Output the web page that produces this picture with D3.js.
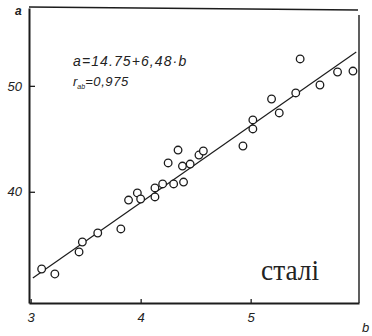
<!DOCTYPE html>
<html>
<head>
<meta charset="utf-8">
<script src="https://cdn.jsdelivr.net/npm/d3@7"></script>
<style>
  html, body { margin: 0; padding: 0; background: #fff; }
  svg { display: block; }
</style>
</head>
<body>
<svg id="chart" width="372" height="336"></svg>
<script>
// ---- data ----
const bValues = [3.10, 3.22, 3.44, 3.47, 3.61, 3.82, 3.89, 3.97, 4.00, 4.13,
                 4.13, 4.20, 4.30, 4.39, 4.25, 4.34, 4.38, 4.45, 4.53, 4.57,
                 4.93, 5.02, 5.02, 5.19, 5.26, 5.41, 5.45, 5.63, 5.79, 5.93];
const aValues = [32.71, 32.24, 34.32, 35.26, 36.11, 36.49, 39.22, 39.89, 39.32, 39.51,
                 40.36, 40.74, 40.74, 40.92, 42.72, 43.94, 42.43, 42.62, 43.47, 43.85,
                 44.32, 46.78, 45.93, 48.76, 47.44, 49.33, 52.54, 50.08, 51.31, 51.40];
const fitB = [3.02, 5.96];
const fitA = [31.86, 53.20];
const xTicks = [3, 4, 5];
const yTicks = [40, 50];
const formulaText = "a=14.75+6,48·b";
const corrLabel = "r";
const corrSub = "ab";
const corrValue = "=0,975";
const materialLabel = "сталі";
const xAxisName = "b";
const yAxisName = "a";

(function () {
// ---- layout ----
const svg = d3.select("#chart");
const pL = 29, pR = 359, pT = 8, pB = 303;
const ink = "#1c1c1c";

const x = d3.scaleLinear().domain([2.985, 5.985]).range([pL, pR]);
const y = d3.scaleLinear().domain([29.5, 57.35]).range([pB, pT]);

svg.append("rect").attr("width", 372).attr("height", 336).attr("fill", "#fff");

// frame (top & right)
svg.append("path")
  .attr("d", `M${pL},${pT - 1} L${pR - 1},${pT + 2} M${pR},${pT + 7} L${pR},${pB}`)
  .attr("fill", "none").attr("stroke", ink).attr("stroke-width", 1.4);

// axes
const xAxis = d3.axisBottom(x).tickValues(xTicks).tickSizeInner(-4).tickSizeOuter(0)
  .tickPadding(10).tickFormat(d3.format("d"));
const yAxis = d3.axisLeft(y).tickValues(yTicks).tickSizeInner(-6).tickSizeOuter(0)
  .tickPadding(7).tickFormat(d3.format("d"));

const gx = svg.append("g").attr("transform", `translate(0,${pB})`).call(xAxis);
const gy = svg.append("g").attr("transform", `translate(${pL},0)`).call(yAxis);

[gx, gy].forEach(g => {
  g.select(".domain").attr("stroke", ink).attr("stroke-width", 2);
  g.selectAll(".tick line").attr("stroke", ink).attr("stroke-width", 1.3);
  g.selectAll(".tick text")
    .attr("fill", "#222")
    .style("font-family", "'Liberation Sans', Arial, sans-serif")
    .style("font-size", "13px")
    .style("font-style", "italic");
});

// regression line
svg.append("line")
  .attr("x1", x(fitB[0])).attr("y1", y(fitA[0]))
  .attr("x2", x(fitB[1])).attr("y2", y(fitA[1]))
  .attr("stroke", ink).attr("stroke-width", 1.2);

// points
svg.append("g").selectAll("circle")
  .data(bValues.map((b, i) => ({ b, a: aValues[i] })))
  .join("circle")
  .attr("cx", d => x(d.b)).attr("cy", d => y(d.a))
  .attr("r", 3.8)
  .attr("fill", "#fff").attr("stroke", ink).attr("stroke-width", 1.3);

// texts
const sans = "'Liberation Sans', Arial, sans-serif";
svg.append("text").attr("x", 73).attr("y", 66)
  .style("font-family", sans).style("font-size", "14px").style("font-style", "italic")
  .style("letter-spacing", "1.1px").attr("fill", "#222").text(formulaText);

const rt = svg.append("text").attr("x", 73).attr("y", 86)
  .style("font-family", sans).style("font-size", "13px").style("font-style", "italic")
  .attr("fill", "#222");
rt.append("tspan").text(corrLabel);
rt.append("tspan").attr("dy", 3).style("font-size", "7px").text(corrSub);
rt.append("tspan").attr("dy", -3).style("letter-spacing", "0.6px").text(corrValue);

svg.append("text").attr("x", 261).attr("y", 280)
  .attr("textLength", 58).attr("lengthAdjust", "spacingAndGlyphs")
  .style("font-family", "'Liberation Serif', 'Times New Roman', serif")
  .style("font-size", "30px").attr("fill", "#222").text(materialLabel);

svg.append("text").attr("x", 15).attr("y", 15)
  .style("font-family", sans).style("font-size", "12px").style("font-style", "italic")
  .style("font-weight", "bold").attr("fill", "#222").text(yAxisName);

svg.append("text").attr("x", 362).attr("y", 332)
  .style("font-family", sans).style("font-size", "13px").style("font-style", "italic")
  .attr("fill", "#222").text(xAxisName);
})();
</script>
</body>
</html>
